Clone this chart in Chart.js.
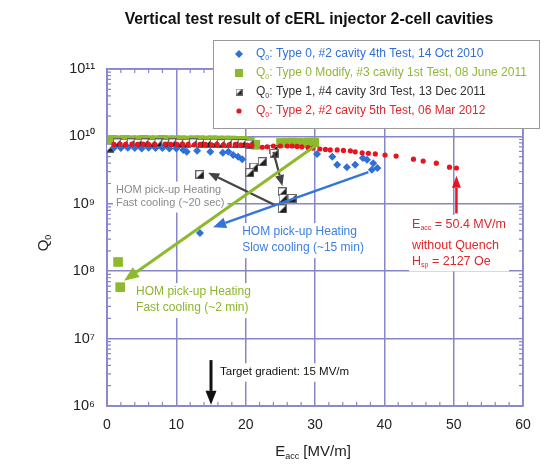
<!DOCTYPE html>
<html><head><meta charset="utf-8">
<script src="https://cdn.jsdelivr.net/npm/chart.js@4.4.0/dist/chart.umd.min.js"></script>
<style>html,body{margin:0;padding:0;background:#fff;}</style>
</head><body>
<canvas id="c" width="544" height="466"></canvas>
<script>
const FONT = '"Liberation Sans", Arial, sans-serif';

// ---- ticks ----
const xTicks = [0, 10, 20, 30, 40, 50, 60];
const yTicks = [1e6, 1e7, 1e8, 1e9, 1e10, 1e11];
const yTickLabels = ['10⁶', '10⁷', '10⁸', '10⁹', '10¹⁰', '10¹¹'];

// ---- series labels (text after "Q0") ----
const seriesLabels = [
  ': Type 0, #2 cavity 4th Test, 14 Oct 2010',
  ': Type 0 Modify, #3 cavity 1st Test, 08 June 2011',
  ': Type 1, #4 cavity 3rd Test, 13 Dec 2011',
  ': Type 2, #2 cavity 5th Test, 06 Mar 2012'
];

// ---- Type 0, #2 cavity (blue diamonds) ----
const type0E = [1.0,2.0,3.0,4.0,5.0,6.0,7.0,8.0,9.0,10.0,11.0,11.5,13.0,14.9,16.7,17.5,18.2,18.9,19.5,30.3,32.5,33.2,34.6,35.8,36.9,37.5,38.4,39.0,38.2,13.4];
const type0Q = [6.8e9,6.7e9,6.8e9,6.7e9,6.6e9,6.8e9,6.7e9,6.7e9,6.6e9,6.6e9,6.3e9,5.9e9,6.1e9,5.9e9,5.7e9,5.9e9,5.3e9,5.0e9,4.6e9,5.5e9,5.0e9,3.8e9,3.5e9,3.8e9,4.8e9,4.5e9,4.0e9,3.4e9,3.2e9,3.7e8];

// ---- Type 0 Modify, #3 cavity (green squares) ----
const type0mE = [0.8,1.7,2.6,3.5,4.4,5.3,6.2,7.1,8.0,8.9,9.8,10.7,11.6,12.5,13.4,14.3,15.2,16.1,17.0,17.9,18.8,19.7,20.6,21.4,25.1,25.9,26.7,27.5,28.3,29.1,29.9,1.6,1.9];
const type0mQ = [8.9e9,8.8e9,8.9e9,8.8e9,8.8e9,8.9e9,8.8e9,8.8e9,8.9e9,8.8e9,8.8e9,8.8e9,8.7e9,8.8e9,8.8e9,8.7e9,8.8e9,8.7e9,8.7e9,8.7e9,8.6e9,8.6e9,8.3e9,7.5e9,8.0e9,8.0e9,8.1e9,8.0e9,8.0e9,8.1e9,8.1e9,1.37e8,5.8e7];

// ---- Type 1, #4 cavity (half-filled squares) ----
const type1E = [0.4,1.5,2.5,3.5,4.5,5.5,6.5,7.5,8.5,9.5,10.5,11.5,12.5,13.5,14.5,15.5,16.5,17.5,18.5,19.5,20.5,24.0,24.1,22.4,21.2,20.6,13.4,25.3,25.4,26.7,25.3];
const type1Q = [6.7e9,8.0e9,7.9e9,8.0e9,7.9e9,8.0e9,7.9e9,8.0e9,7.9e9,8.0e9,7.9e9,7.9e9,8.0e9,7.9e9,7.9e9,7.9e9,7.8e9,7.9e9,7.8e9,7.8e9,7.7e9,6.4e9,5.6e9,4.2e9,3.5e9,2.9e9,2.7e9,1.5e9,1.2e9,1.2e9,8.4e8];

// ---- Type 2, #2 cavity (red dots) ----
const type2E = [1.0,1.9,2.7,3.6,4.4,5.2,6.0,6.9,8.4,9.2,10.1,10.9,11.7,12.6,13.4,14.2,15.1,15.9,16.8,17.6,18.5,19.3,20.2,20.9,22.4,23.1,24.0,25.0,26.0,26.7,27.4,28.1,29.0,29.7,30.7,31.5,32.2,33.2,34.1,35.1,35.8,36.8,37.7,38.7,40.1,41.7,44.2,45.6,47.5,49.4,50.4];
const type2Q = [7.6e9,7.7e9,7.6e9,7.7e9,7.6e9,7.7e9,7.6e9,7.6e9,7.7e9,7.6e9,7.6e9,7.7e9,7.6e9,7.5e9,7.6e9,7.6e9,7.5e9,7.6e9,7.5e9,7.5e9,7.6e9,7.5e9,7.4e9,7.4e9,6.9e9,7.0e9,7.2e9,7.2e9,7.2e9,7.2e9,7.1e9,7.0e9,6.8e9,6.7e9,6.5e9,6.4e9,6.3e9,6.3e9,6.2e9,6.1e9,5.9e9,5.7e9,5.6e9,5.5e9,5.3e9,5.1e9,4.6e9,4.3e9,4.0e9,3.5e9,3.4e9];

// ---- colours ----
const BLUE = '#2f6fd8', GREEN = '#8dba2c', RED = '#e8141e';
const GRID = '#8686cc';

function pts(E, Q) { return E.map((e, i) => ({ x: e, y: Q[i] })); }

function halfSquare(s) {
  const c = document.createElement('canvas');
  c.width = s; c.height = s;
  const g = c.getContext('2d');
  g.fillStyle = '#ffffff'; g.fillRect(0, 0, s, s);
  g.fillStyle = '#1e1e1e';
  g.beginPath(); g.moveTo(s, 0); g.lineTo(s, s); g.lineTo(0, s); g.closePath(); g.fill();
  g.strokeStyle = '#666'; g.lineWidth = 1; g.strokeRect(0.5, 0.5, s - 1, s - 1);
  return c;
}
const hsBig = halfSquare(9), hsSmall = halfSquare(7);

function arrow(ctx, x1, y1, x2, y2, color, lw, hl, hw) {
  const a = Math.atan2(y2 - y1, x2 - x1);
  const bx = x2 - hl * Math.cos(a), by = y2 - hl * Math.sin(a);
  ctx.save();
  ctx.strokeStyle = color; ctx.lineWidth = lw; ctx.lineCap = 'butt';
  ctx.beginPath(); ctx.moveTo(x1, y1); ctx.lineTo(bx, by); ctx.stroke();
  ctx.fillStyle = color; ctx.beginPath(); ctx.moveTo(x2, y2);
  ctx.lineTo(bx + hw / 2 * Math.sin(a), by - hw / 2 * Math.cos(a));
  ctx.lineTo(bx - hw / 2 * Math.sin(a), by + hw / 2 * Math.cos(a));
  ctx.closePath(); ctx.fill();
  ctx.restore();
}

function fontOf(p) { return (p.bold ? 'bold ' : '') + p.size + 'px ' + FONT; }
function richWidth(ctx, parts) {
  let w = 0;
  ctx.save();
  parts.forEach(p => { ctx.font = fontOf(p); w += ctx.measureText(p.t).width; });
  ctx.restore();
  return w;
}
function rich(ctx, parts, x, y, color, align) {
  ctx.save();
  ctx.fillStyle = color; ctx.textBaseline = 'middle'; ctx.textAlign = 'left';
  const w = richWidth(ctx, parts);
  let cx = align === 'center' ? x - w / 2 : x;
  parts.forEach(p => {
    ctx.font = fontOf(p);
    ctx.fillText(p.t, cx, y + (p.dy || 0));
    cx += ctx.measureText(p.t).width;
  });
  ctx.restore();
}

// annotation blocks: anchor in data units, lines with pixel offsets
const notes = [
  { e: 1.3, q: 1.6e9, color: '#8a8a8a', lines: [
      { dy: 0, parts: [{ t: 'HOM pick-up Heating', size: 11 }] },
      { dy: 13, parts: [{ t: 'Fast cooling (~20 sec)', size: 11 }] }] },
  { e: 19.5, q: 3.8e8, color: '#3d7fe0', lines: [
      { dy: 0, parts: [{ t: 'HOM pick-up Heating', size: 12 }] },
      { dy: 16, parts: [{ t: 'Slow cooling (~15 min)', size: 12 }] }] },
  { e: 4.2, q: 4.9e7, color: '#8db52f', lines: [
      { dy: 0, parts: [{ t: 'HOM pick-up Heating', size: 12 }] },
      { dy: 16, parts: [{ t: 'Fast cooling (~2 min)', size: 12 }] }] },
  { e: 44.0, q: 5.0e8, color: '#e0262b', lines: [
      { dy: 0, parts: [{ t: 'E', size: 12.5 }, { t: 'acc', size: 7, dy: 4 }, { t: ' = 50.4 MV/m', size: 12.5 }] },
      { dy: 21, parts: [{ t: 'without Quench', size: 12.5 }] },
      { dy: 37, parts: [{ t: 'H', size: 12.5 }, { t: 'sp', size: 7, dy: 4 }, { t: ' = 2127 Oe', size: 12.5 }] }] },
  { e: 16.3, q: 3.2e6, color: '#111', lines: [
      { dy: 0, parts: [{ t: 'Target gradient: 15 MV/m', size: 11.5 }] }] }
];

const decor = {
  id: 'decor',
  beforeDatasetsDraw(chart) {
    const { ctx, chartArea: ca, scales: { x, y } } = chart;
    ctx.save();
    ctx.strokeStyle = GRID; ctx.lineWidth = 1.2;
    ctx.beginPath();
    for (let v = 0; v <= 60; v += 2) {
      if (v % 10 === 0) continue;
      const px = x.getPixelForValue(v);
      ctx.moveTo(px, ca.bottom); ctx.lineTo(px, ca.bottom - 4);
      ctx.moveTo(px, ca.top); ctx.lineTo(px, ca.top + 4);
    }
    for (let d = 6; d < 11; d++) {
      for (let k = 2; k <= 9; k++) {
        const py = y.getPixelForValue(k * Math.pow(10, d));
        ctx.moveTo(ca.left, py); ctx.lineTo(ca.left + 4, py);
        ctx.moveTo(ca.right, py); ctx.lineTo(ca.right - 4, py);
      }
    }
    ctx.stroke();
    // white block behind each annotation text
    ctx.fillStyle = '#fff';
    notes.forEach(n => {
      const ax = x.getPixelForValue(n.e), ay = y.getPixelForValue(n.q);
      let w = 0;
      n.lines.forEach(l => { w = Math.max(w, richWidth(ctx, l.parts)); });
      const first = n.lines[0], last = n.lines[n.lines.length - 1];
      const top = ay + first.dy - first.parts[0].size / 2 - 3;
      const bot = ay + last.dy + last.parts[0].size / 2 + 4;
      ctx.fillRect(ax - 3, top, w + 6, bot - top);
    });
    ctx.strokeStyle = GRID; ctx.lineWidth = 1.5;
    ctx.strokeRect(ca.left, ca.top, ca.right - ca.left, ca.bottom - ca.top);
    ctx.restore();
  },
  afterDatasetsDraw(chart) {
    const { ctx, scales: { x, y } } = chart;
    const P = (e, q) => [x.getPixelForValue(e), y.getPixelForValue(q)];
    let a, b;
    a = P(24.2, 9.6e8); b = P(14.6, 2.9e9); arrow(ctx, a[0], a[1], b[0], b[1], '#444', 2.2, 11, 9);
    a = P(24.0, 5.9e9); b = P(25.3, 1.84e9); arrow(ctx, a[0], a[1], b[0], b[1], '#444', 2.2, 11, 9);
    a = P(30.0, 7.2e9); b = P(2.45, 7.2e7); arrow(ctx, a[0], a[1], b[0], b[1], GREEN, 3, 15, 12);
    a = P(37.7, 2.95e9); b = P(15.3, 4.5e8); arrow(ctx, a[0], a[1], b[0], b[1], '#3574d9', 2.5, 13, 11);
    a = P(50.4, 7.2e8); b = P(50.4, 2.6e9); arrow(ctx, a[0], a[1], b[0], b[1], RED, 2.5, 12, 9);
    a = P(15, 4.8e6); b = P(15, 1.04e6); arrow(ctx, a[0], a[1], b[0], b[1], '#111', 3, 14, 11);

    notes.forEach(n => {
      const ax = x.getPixelForValue(n.e), ay = y.getPixelForValue(n.q);
      n.lines.forEach(l => rich(ctx, l.parts, ax, ay + l.dy, n.color));
    });
  },
  afterDraw(chart) {
    const { ctx } = chart;
    rich(ctx, [{ t: 'Vertical test result of cERL injector 2-cell cavities', size: 15.8, bold: true }], 309, 20, '#111', 'center');
    rich(ctx, [{ t: 'E', size: 15 }, { t: 'acc', size: 9, dy: 5 }, { t: ' [MV/m]', size: 15 }], 313, 452, '#222', 'center');
    ctx.save(); ctx.translate(44, 243); ctx.rotate(-Math.PI / 2);
    rich(ctx, [{ t: 'Q', size: 15 }, { t: '0', size: 9, dy: 5 }], 0, 0, '#222', 'center');
    ctx.restore();
    // legend
    ctx.save();
    ctx.fillStyle = '#fff'; ctx.fillRect(213, 40, 326, 88);
    ctx.strokeStyle = '#9a9a9a'; ctx.lineWidth = 1; ctx.strokeRect(213.5, 40.5, 326, 88);
    const cols = [BLUE, '#93b53a', '#333', '#e0262b'];
    seriesLabels.forEach((lab, i) => {
      const yy = 54 + i * 19, mx = 239;
      ctx.fillStyle = [BLUE, GREEN, '#000', RED][i];
      if (i === 0) { ctx.beginPath(); ctx.moveTo(mx, yy - 4); ctx.lineTo(mx + 4, yy); ctx.lineTo(mx, yy + 4); ctx.lineTo(mx - 4, yy); ctx.closePath(); ctx.fill(); }
      else if (i === 1) { ctx.fillRect(mx - 4, yy - 4, 8, 8); }
      else if (i === 2) { ctx.drawImage(hsSmall, mx - 3.5, yy - 3.5); }
      else { ctx.beginPath(); ctx.arc(mx, yy, 2.6, 0, Math.PI * 2); ctx.fill(); }
      rich(ctx, [{ t: 'Q', size: 12 }, { t: '0', size: 7, dy: 4 }, { t: lab, size: 12 }], 256, yy, cols[i]);
    });
    ctx.restore();
  }
};

new Chart(document.getElementById('c'), {
  type: 'scatter',
  data: {
    datasets: [
      { label: seriesLabels[3], data: pts(type2E, type2Q), pointStyle: 'circle', pointRadius: 2.6, backgroundColor: RED, borderColor: RED, borderWidth: 0, order: 0 },
      { label: seriesLabels[0], data: pts(type0E, type0Q), pointStyle: 'rectRot', pointRadius: 4, backgroundColor: BLUE, borderColor: BLUE, borderWidth: 0, order: 1 },
      { label: seriesLabels[2], data: pts(type1E, type1Q), pointStyle: hsBig, pointRadius: 4.5, backgroundColor: '#000', borderColor: '#000', borderWidth: 0, order: 2 },
      { label: seriesLabels[1], data: pts(type0mE, type0mQ), pointStyle: 'rect', pointRadius: 6.8, backgroundColor: GREEN, borderColor: GREEN, borderWidth: 0, order: 3 }
    ]
  },
  options: {
    responsive: false, animation: false, devicePixelRatio: 1,
    layout: { padding: { top: 69, right: 21, left: 0, bottom: 0 } },
    plugins: { legend: { display: false }, tooltip: { enabled: false }, title: { display: false } },
    scales: {
      x: {
        type: 'linear', min: 0, max: 60,
        afterBuildTicks: s => { s.ticks = xTicks.map(v => ({ value: v })); },
        afterFit: s => { s.height = 60; },
        ticks: { font: { family: FONT, size: 14 }, color: '#222', padding: 11, maxRotation: 0 },
        grid: { color: GRID, lineWidth: 1.5, drawTicks: false },
        border: { color: GRID, width: 1.5 }
      },
      y: {
        type: 'logarithmic', min: 1e6, max: 1e11,
        afterBuildTicks: s => { s.ticks = yTicks.map(v => ({ value: v })); },
        afterFit: s => { s.width = 107; },
        ticks: { font: { family: FONT, size: 14.5 }, color: '#222', padding: 12,
          callback: v => { const i = yTicks.indexOf(v); return i >= 0 ? yTickLabels[i] : ''; } },
        grid: { color: GRID, lineWidth: 1.5, drawTicks: false },
        border: { color: GRID, width: 1.5 }
      }
    }
  },
  plugins: [decor]
});
</script>
</body></html>
